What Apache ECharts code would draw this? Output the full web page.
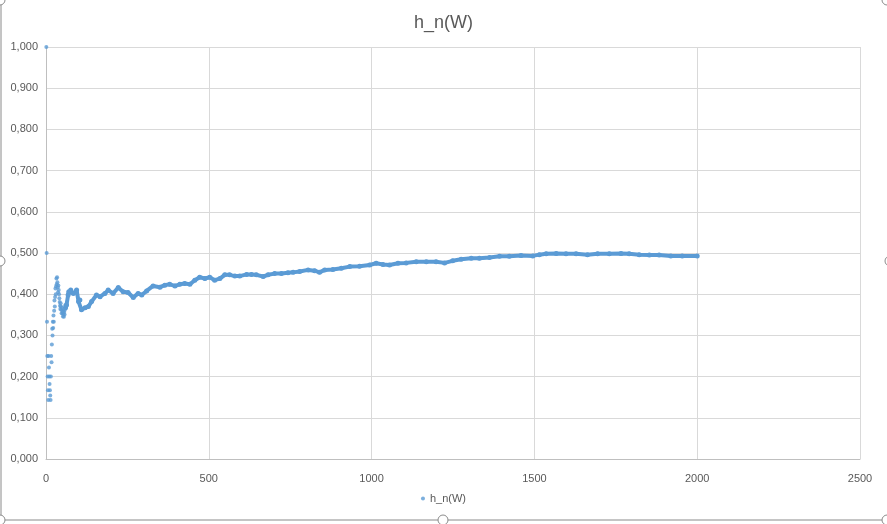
<!DOCTYPE html>
<html>
<head>
<meta charset="utf-8">
<script src="https://cdn.jsdelivr.net/npm/echarts@6/dist/echarts.min.js"></script>
<style>
  html, body { margin: 0; padding: 0; background: #fff; }
  #chart { width: 887px; height: 524px; }
</style>
</head>
<body>
<div id="chart"></div>
<script>
// first trials, n = 1..60
const earlyValues = [
  1.000, 0.500, 0.333, 0.250, 0.200, 0.167, 0.143, 0.250, 0.222, 0.200,
  0.182, 0.167, 0.154, 0.143, 0.200, 0.250, 0.235, 0.278, 0.316, 0.300,
  0.333, 0.318, 0.348, 0.333, 0.360, 0.385, 0.370, 0.393, 0.414, 0.400,
  0.419, 0.438, 0.424, 0.441, 0.429, 0.417, 0.405, 0.421, 0.410, 0.400,
  0.390, 0.381, 0.372, 0.364, 0.378, 0.370, 0.362, 0.354, 0.367, 0.360,
  0.353, 0.346, 0.358, 0.352, 0.345, 0.357, 0.351, 0.362, 0.373, 0.367
]

// later trials: the dots merge into a band, sampled along it
const bandN = [
  60, 63, 68, 70, 76, 84, 94, 100, 104, 109,
  120, 130, 140, 155, 166, 181, 191, 206, 222, 237,
  252, 268, 283, 294, 309, 329, 350, 365, 380, 396,
  411, 426, 442, 457, 472, 488, 503, 518, 534, 549,
  564, 580, 595, 616, 631, 646, 667, 682, 702, 723,
  743, 759, 779, 805, 825, 840, 856, 881, 907, 933,
  963, 994, 1014, 1035, 1055, 1081, 1106, 1137, 1168, 1198,
  1224, 1249, 1275, 1306, 1331, 1362, 1393, 1423, 1459, 1495,
  1515, 1536, 1567, 1597, 1628, 1663, 1694, 1730, 1766, 1791,
  1822, 1853, 1883, 1919, 1954, 2000
]
const bandValues = [
  0.367, 0.374, 0.398, 0.406, 0.410, 0.402, 0.410, 0.382, 0.386, 0.362,
  0.367, 0.370, 0.382, 0.398, 0.394, 0.402, 0.410, 0.402, 0.416, 0.406,
  0.404, 0.392, 0.402, 0.398, 0.408, 0.420, 0.417, 0.422, 0.424, 0.420,
  0.424, 0.426, 0.424, 0.434, 0.441, 0.438, 0.441, 0.434, 0.438, 0.447,
  0.447, 0.444, 0.444, 0.448, 0.448, 0.447, 0.443, 0.447, 0.450, 0.450,
  0.452, 0.453, 0.455, 0.459, 0.457, 0.453, 0.459, 0.460, 0.463, 0.467,
  0.468, 0.471, 0.475, 0.472, 0.471, 0.475, 0.476, 0.479, 0.479, 0.479,
  0.476, 0.481, 0.485, 0.487, 0.487, 0.489, 0.492, 0.492, 0.494, 0.493,
  0.496, 0.498, 0.499, 0.498, 0.498, 0.496, 0.498, 0.498, 0.499, 0.498,
  0.496, 0.495, 0.495, 0.493, 0.493, 0.493
]

const SERIES_NAME = 'h_n(W)'
const BLUE = '#5B9BD5'
const TEXT = '#595959'
const FONT = 'Liberation Sans'

const chart = echarts.init(document.getElementById('chart'))

const handle = (x, y) => ({
  type: 'circle',
  shape: { cx: x, cy: y, r: 5 },
  style: { fill: '#fff', stroke: '#8a8a8a', lineWidth: 1 },
  z: 100
})

chart.setOption({
  animation: false,
  textStyle: { fontFamily: FONT },
  title: {
    text: SERIES_NAME,
    left: 'center',
    top: 9,
    textStyle: { color: TEXT, fontSize: 18, fontWeight: 'normal', fontFamily: FONT }
  },
  legend: {
    bottom: 15,
    left: 'center',
    itemWidth: 4,
    itemHeight: 4,
    itemGap: 4,
    data: [{ name: SERIES_NAME, icon: 'circle' }],
    textStyle: { color: TEXT, fontSize: 11 }
  },
  grid: { left: 46, right: 27, top: 47, bottom: 65 },
  xAxis: {
    type: 'value',
    min: 0,
    max: 2500,
    interval: 500,
    axisLine: { lineStyle: { color: '#bfbfbf' } },
    axisTick: { show: false },
    axisLabel: { color: TEXT, fontSize: 11, margin: 14, formatter: (v) => String(v) },
    splitLine: { lineStyle: { color: '#d9d9d9' } }
  },
  yAxis: {
    type: 'value',
    min: 0,
    max: 1,
    interval: 0.1,
    axisLine: { show: true, lineStyle: { color: '#bfbfbf' } },
    axisTick: { show: false },
    axisLabel: {
      color: TEXT,
      fontSize: 11,
      margin: 8,
      formatter: (v) => v.toFixed(3).replace('.', ',')
    },
    splitLine: { lineStyle: { color: '#d9d9d9' } }
  },
  series: [
    {
      name: SERIES_NAME,
      type: 'scatter',
      symbolSize: 4,
      itemStyle: { color: BLUE },
      data: earlyValues.map((v, i) => [i + 1, v])
    },
    {
      name: SERIES_NAME,
      type: 'line',
      showSymbol: true,
      symbol: 'circle',
      symbolSize: 5,
      lineStyle: { color: BLUE, width: 4 },
      itemStyle: { color: BLUE, borderWidth: 0 },
      data: bandN.map((n, i) => [n, bandValues[i]])
    }
  ],
  graphic: [
    { type: 'line', shape: { x1: 1, y1: 0, x2: 1, y2: 520 }, style: { stroke: '#8a8a8a', lineWidth: 1 }, z: 99 },
    { type: 'line', shape: { x1: 0, y1: 520, x2: 887, y2: 520 }, style: { stroke: '#8a8a8a', lineWidth: 1 }, z: 99 },
    handle(0, 0), handle(887, 0),
    handle(0, 261), handle(890, 261),
    handle(0, 520), handle(443, 520), handle(887, 520)
  ]
})
</script>
</body>
</html>
